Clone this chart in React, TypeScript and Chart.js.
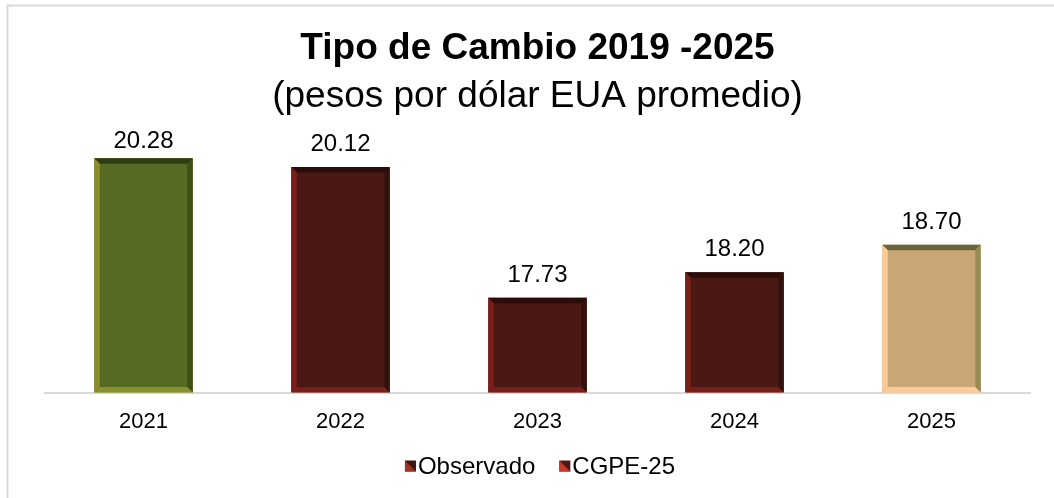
import React, { useEffect, useRef } from "react";
import { Chart, registerables } from "chart.js";

Chart.register(...registerables);

const categories = ["2021", "2022", "2023", "2024", "2025"];
const observado = [20.28, 20.12, 17.73, 18.2, null];
const cgpe = [null, null, null, null, 18.7];
const legendLabels = ["Observado", "CGPE-25"];
const titleText = "Tipo de Cambio 2019 -2025";
const subtitleText = "(pesos por dólar EUA promedio)";

// styles per bar
const fillColors = ["#566b23", "#4a1915", "#4a1915", "#4a1915", "#c9a677"];
const bevelTop = ["#2f3d10", "#2b0d0a", "#2b0d0a", "#2b0d0a", "#6a6538"];
const bevelLeft = ["#8c8f2c", "#7a1f17", "#7a1f17", "#7a1f17", "#ffca93"];
const bevelRight = ["#3c5014", "#33100c", "#33100c", "#33100c", "#978c52"];
const bevelBottom = ["#8c8f2c", "#7a1f17", "#7a1f17", "#7a1f17", "#ffca93"];
const legendRed = ["#a0301f", "#c43a2a"];
const legendDark = ["#3a1410", "#4e1812"];

const FONT = "'Liberation Sans', Arial, sans-serif";

const bevelPlugin = {
  id: "bevel",
  afterDatasetsDraw(chart: any) {
    const ctx = chart.ctx;
    const b = 5.5;
    chart.data.datasets.forEach((ds: any, di: number) => {
      const meta = chart.getDatasetMeta(di);
      meta.data.forEach((el: any, i: number) => {
        if (ds.data[i] == null) return;
        const { x, y, base, width } = el.getProps(["x", "y", "base", "width"], true);
        const l = x - width / 2;
        const r = x + width / 2;
        const t = y;
        const bt = Math.min(base, chart.chartArea.bottom);
        const poly = (pts: number[][], c: string) => {
          ctx.beginPath();
          ctx.moveTo(pts[0][0], pts[0][1]);
          for (let k = 1; k < pts.length; k++) ctx.lineTo(pts[k][0], pts[k][1]);
          ctx.closePath();
          ctx.fillStyle = c;
          ctx.fill();
        };
        ctx.save();
        poly([[l, t], [r, t], [r - b, t + b], [l + b, t + b]], bevelTop[i]);
        poly([[l, t], [l + b, t + b], [l + b, bt - b], [l, bt]], bevelLeft[i]);
        poly([[r, t], [r, bt], [r - b, bt - b], [r - b, t + b]], bevelRight[i]);
        poly([[l, bt], [r, bt], [r - b, bt - b], [l + b, bt - b]], bevelBottom[i]);
        ctx.restore();
      });
    });
  },
};

const labelPlugin = {
  id: "valueLabels",
  afterDatasetsDraw(chart: any) {
    const ctx = chart.ctx;
    ctx.save();
    ctx.font = `24px ${FONT}`;
    ctx.fillStyle = "#000";
    ctx.textAlign = "center";
    ctx.textBaseline = "alphabetic";
    chart.data.datasets.forEach((ds: any, di: number) => {
      const meta = chart.getDatasetMeta(di);
      meta.data.forEach((el: any, i: number) => {
        const v = ds.data[i];
        if (v == null) return;
        const yy = Math.max(el.y - 16, chart.chartArea.top + 29);
        ctx.fillText(v.toFixed(2), el.x, yy);
      });
    });
    ctx.restore();
  },
};

const framePlugin = {
  id: "frame",
  beforeDraw(chart: any) {
    const ctx = chart.ctx;
    ctx.save();
    ctx.fillStyle = "#fff";
    ctx.fillRect(0, 0, chart.width, chart.height);
    ctx.strokeStyle = "#d9d9d9";
    ctx.lineWidth = 2;
    ctx.strokeRect(7.5, 5.5, chart.width + 20, chart.height + 20);
    ctx.restore();
  },
};

const legendPlugin = {
  id: "customLegend",
  afterDraw(chart: any) {
    const ctx = chart.ctx;
    ctx.save();
    ctx.font = `24px ${FONT}`;
    const box = 11;
    const gap = 2;
    const spacing = 24;
    const widths = legendLabels.map((t) => box + gap + ctx.measureText(t).width);
    const total = widths.reduce((a, c) => a + c, 0) + spacing * (widths.length - 1);
    let x = 540 - total / 2;
    const cy = 466;
    legendLabels.forEach((t, i) => {
      const top = cy - box / 2;
      ctx.fillStyle = legendDark[i];
      ctx.fillRect(x, top, box, box);
      ctx.beginPath();
      ctx.moveTo(x, top);
      ctx.lineTo(x + box, top + box);
      ctx.lineTo(x, top + box);
      ctx.closePath();
      ctx.fillStyle = legendRed[i];
      ctx.fill();
      ctx.fillStyle = "#000";
      ctx.textAlign = "left";
      ctx.textBaseline = "middle";
      ctx.fillText(t, x + box + gap, cy + 1);
      x += widths[i] + spacing;
    });
    ctx.restore();
  },
};

export default function App() {
  const ref = useRef<HTMLCanvasElement | null>(null);
  useEffect(() => {
    if (!ref.current) return;
    const chart = new Chart(ref.current, {
      type: "bar",
      data: {
        labels: categories,
        datasets: [
          {
            label: legendLabels[0],
            data: observado,
            backgroundColor: fillColors,
            grouped: false,
            base: 16,
            categoryPercentage: 1,
            barPercentage: 0.5,
          } as any,
          {
            label: legendLabels[1],
            data: cgpe,
            backgroundColor: fillColors,
            grouped: false,
            base: 16,
            categoryPercentage: 1,
            barPercentage: 0.5,
          } as any,
        ],
      },
      options: {
        animation: false,
        responsive: false,
        maintainAspectRatio: false,
        layout: { padding: { left: 45, right: 24, top: 0, bottom: 47 } },
        plugins: {
          legend: { display: false },
          tooltip: { enabled: false },
          title: {
            display: true,
            text: titleText,
            color: "#000",
            font: { family: FONT, size: 37, weight: "bold" },
            padding: { top: 27, bottom: 0 },
          },
          subtitle: {
            display: true,
            text: subtitleText,
            color: "#000",
            font: { family: FONT, size: 37, weight: "normal" },
            padding: { top: 3, bottom: 0 },
          },
        },
        scales: {
          x: {
            grid: { display: false, drawTicks: false },
            border: { display: true, color: "#d9d9d9", width: 2 },
            ticks: { color: "#000", font: { family: FONT, size: 22 }, padding: 16 },
          },
          y: {
            display: false,
            min: 16,
            max: 21,
          },
        },
      },
      plugins: [framePlugin, bevelPlugin, labelPlugin, legendPlugin],
    });
    return () => chart.destroy();
  }, []);
  return (
    <div style={{ position: "absolute", left: 0, top: 0, width: 1054, height: 498 }}>
      <canvas ref={ref} width={1054} height={498} style={{ display: "block" }} />
    </div>
  );
}
